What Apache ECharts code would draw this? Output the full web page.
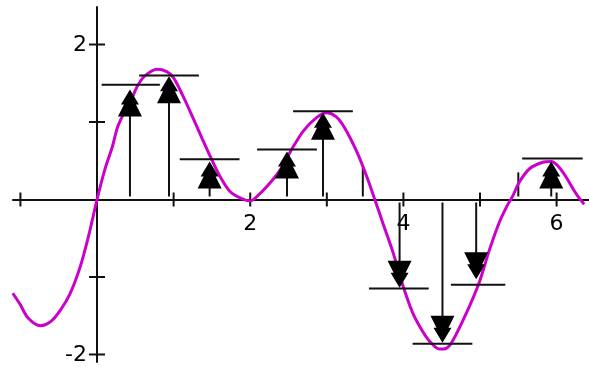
<!DOCTYPE html>
<html>
<head>
<meta charset="utf-8">
<style>
  html, body { margin: 0; padding: 0; background: #fff; }
  #chart { width: 589px; height: 367px; }
</style>
<script src="https://cdn.jsdelivr.net/npm/echarts@6/dist/echarts.min.js"></script>
</head>
<body>
<div id="chart"></div>
<script>
// curve
const curveX = [-1.10, -1.00, -0.90, -0.74, -0.61, -0.48, -0.35, -0.22, -0.11, 0, 0.10, 0.20, 0.27, 0.37, 0.46, 0.52, 0.59, 0.67, 0.78, 0.91, 1.00, 1.12, 1.25, 1.38, 1.50, 1.61, 1.74, 1.89, 2.00, 2.10, 2.22, 2.39, 2.52, 2.69, 2.87, 3.00, 3.12, 3.23, 3.39, 3.52, 3.62, 3.73, 3.86, 3.99, 4.12, 4.25, 4.36, 4.47, 4.56, 4.64, 4.82, 4.99, 5.12, 5.25, 5.36, 5.43, 5.51, 5.65, 5.82, 5.93, 6.03, 6.13, 6.22, 6.30, 6.36];
const curveY = [-1.21, -1.36, -1.53, -1.63, -1.58, -1.43, -1.21, -0.87, -0.47, 0, 0.38, 0.68, 0.94, 1.15, 1.32, 1.45, 1.56, 1.63, 1.68, 1.65, 1.57, 1.34, 1.06, 0.77, 0.51, 0.29, 0.10, 0.01, -0.02, 0.05, 0.17, 0.38, 0.61, 0.88, 1.06, 1.12, 1.07, 0.93, 0.62, 0.30, 0.02, -0.30, -0.67, -1.10, -1.46, -1.70, -1.85, -1.93, -1.92, -1.83, -1.47, -1.07, -0.66, -0.30, -0.07, 0.05, 0.22, 0.40, 0.48, 0.49, 0.42, 0.28, 0.13, 0.01, -0.06];

// arrows: position, tip value, level of the bar, bar ends
const arrowX = [0.43, 0.94, 1.47, 2.48, 2.95, 3.95, 4.51, 4.95, 5.93];
const arrowTip = [1.42, 1.59, 0.49, 0.62, 1.12, -1.14, -1.85, -1.03, 0.49];
const barY = [1.48, 1.60, 0.52, 0.645, 1.14, -1.15, -1.86, -1.10, 0.53];
const barL = [0.06, 0.55, 1.08, 2.09, 2.56, 3.55, 4.12, 4.62, 5.55];
const barR = [0.82, 1.33, 1.86, 2.87, 3.34, 4.33, 4.90, 5.33, 6.34];

// stems without a head
const stemX = [1.96, 3.47, 5.50];
const stemY = [0.04, 0.41, 0.35];

const xTicks = [-1, 0, 1, 2, 3, 4, 5, 6];
const yTicks = [-2, -1, 1, 2];
const xLabels = [2, 4, 6];
const yLabels = [-2, 2];

const INK = '#111';
const FONT = '22px "DejaVu Sans"';
const chart = echarts.init(document.getElementById('chart'));

// stem + two-step arrow head + level bar
function renderArrow(params, api) {
  const x = api.value(0), tip = api.value(1);
  const p0 = api.coord([x, 0]);
  const t = api.coord([x, tip]);
  const s = tip > 0 ? 1 : -1;
  const b1 = api.coord([api.value(3), api.value(2)]);
  const b2 = api.coord([api.value(4), api.value(2)]);
  return {
    type: 'group',
    children: [
      { type: 'line', shape: { x1: p0[0], y1: p0[1] - s * 3, x2: t[0], y2: t[1] + s * 20 }, style: { stroke: INK, lineWidth: 2 } },
      { type: 'polygon', shape: { points: [
          [t[0], t[1]], [t[0] - 9, t[1] + s * 15], [t[0] - 6, t[1] + s * 15],
          [t[0] - 12, t[1] + s * 27], [t[0] + 12, t[1] + s * 27],
          [t[0] + 6, t[1] + s * 15], [t[0] + 9, t[1] + s * 15]
        ] }, style: { fill: '#000' } },
      { type: 'line', shape: { x1: b1[0], y1: b1[1], x2: b2[0], y2: b2[1] }, style: { stroke: INK, lineWidth: 2 } }
    ]
  };
}

function renderStem(params, api) {
  const a = api.coord([api.value(0), 0]);
  const b = api.coord([api.value(0), api.value(1)]);
  return { type: 'line', shape: { x1: a[0], y1: a[1] - 3, x2: b[0], y2: b[1] }, style: { stroke: INK, lineWidth: 2 } };
}

function renderXTick(params, api) {
  const p = api.coord([api.value(0), 0]);
  return { type: 'line', shape: { x1: p[0], y1: p[1] - 7, x2: p[0], y2: p[1] + 7 }, style: { stroke: INK, lineWidth: 2 } };
}

function renderYTick(params, api) {
  const p = api.coord([0, api.value(1)]);
  return { type: 'line', shape: { x1: p[0] - 8, y1: p[1], x2: p[0] + 8, y2: p[1] }, style: { stroke: INK, lineWidth: 2 } };
}

function renderXLabel(params, api) {
  const p = api.coord([api.value(0), 0]);
  return { type: 'text', x: p[0], y: p[1] + 25, style: { text: String(api.value(0)), font: FONT, fill: '#000', align: 'center', verticalAlign: 'middle' } };
}

function renderYLabel(params, api) {
  const p = api.coord([0, api.value(1)]);
  return { type: 'text', x: p[0] - 10, y: p[1] + 1, style: { text: String(api.value(1)), font: FONT, fill: '#000', align: 'right', verticalAlign: 'middle' } };
}

const option = {
  animation: false,
  backgroundColor: '#fff',
  grid: { left: 13, right: 0, top: 7, bottom: 5, containLabel: false, outerBoundsMode: 'none' },
  xAxis: {
    type: 'value', min: -1.097, max: 6.423,
    splitLine: { show: false },
    axisLine: { onZero: true, lineStyle: { color: INK, width: 2 } },
    axisTick: { show: false },
    axisLabel: { show: false }
  },
  yAxis: {
    type: 'value', min: -2.097, max: 2.484,
    splitLine: { show: false },
    axisLine: { onZero: true, lineStyle: { color: INK, width: 2 } },
    axisTick: { show: false },
    axisLabel: { show: false }
  },
  series: [
    { type: 'custom', renderItem: renderXTick, data: xTicks.map(v => [v, 0]), silent: true, z: 1 },
    { type: 'custom', renderItem: renderYTick, data: yTicks.map(v => [0, v]), silent: true, z: 1 },
    { type: 'custom', renderItem: renderXLabel, data: xLabels.map(v => [v, 0]), silent: true, z: 1, clip: false },
    { type: 'custom', renderItem: renderYLabel, data: yLabels.map(v => [0, v]), silent: true, z: 1, clip: false },
    { type: 'custom', renderItem: renderStem, data: stemX.map((x, i) => [x, stemY[i]]), silent: true, z: 1 },
    {
      type: 'line', data: curveX.map((x, i) => [x, curveY[i]]),
      smooth: 0.3, showSymbol: false, z: 2,
      lineStyle: { color: '#cc00cc', width: 3 }
    },
    {
      type: 'custom', renderItem: renderArrow, silent: true, z: 3,
      data: arrowX.map((x, i) => [x, arrowTip[i], barY[i], barL[i], barR[i]])
    }
  ]
};
chart.setOption(option);
</script>
</body>
</html>
